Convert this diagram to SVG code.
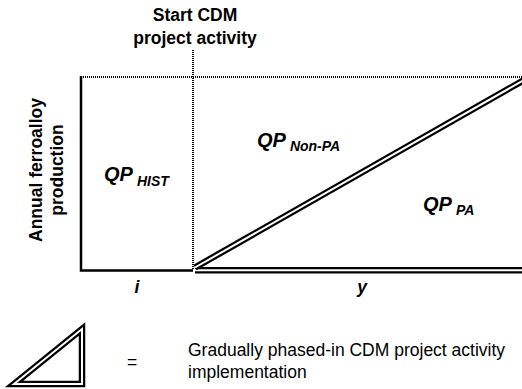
<svg xmlns="http://www.w3.org/2000/svg" width="522" height="389" viewBox="0 0 522 389">
<style>
.lbl{font-family:"Liberation Sans",Arial,sans-serif;font-weight:bold;font-size:17.5px;fill:#000}
.qp{font-family:"Liberation Sans",Arial,sans-serif;font-weight:bold;font-style:italic;font-size:20px;fill:#000}
.sub{font-size:14px}
.txt{font-family:"Liberation Sans",Arial,sans-serif;font-size:17.5px;fill:#000}
.dot{stroke:#000;stroke-width:2;stroke-dasharray:1 1;fill:none}
.axis{stroke:#000;stroke-width:2.5;fill:none}
.dblo{stroke:#000;stroke-width:6.5;fill:none}
.dbli{stroke:#fff;stroke-width:2;fill:none}
</style>
<rect width="522" height="389" fill="#fff"/>
<g id="connectors">
<line class="dot" x1="81" y1="77" x2="522" y2="77"/>
<line class="dot" x1="193" y1="50" x2="193" y2="270"/>
<polyline class="axis" points="81,76 81,270.5 193,270.5"/>
<line class="dblo" x1="195" y1="270.2" x2="522" y2="270.2"/>
<line class="dbli" x1="195" y1="270.2" x2="522" y2="270.2"/>
<line class="dblo" x1="195" y1="267.5" x2="524" y2="80"/>
<line class="dbli" x1="195" y1="267.5" x2="524" y2="80"/>
</g>
<g id="start-label">
<text class="lbl" text-anchor="middle" x="195" y="20.5">Start CDM</text>
<text class="lbl" text-anchor="middle" x="195" y="43.5">project activity</text>
</g>
<g id="y-axis-label">
<text class="lbl" text-anchor="middle" transform="translate(42,170) rotate(-90)">Annual ferroalloy</text>
<text class="lbl" text-anchor="middle" transform="translate(63,170) rotate(-90)">production</text>
</g>
<g id="qp-hist"><text class="qp" x="104" y="181">QP<tspan class="sub" dx="4" dy="5">HIST</tspan></text></g>
<g id="qp-nonpa"><text class="qp" x="257" y="146.5">QP<tspan class="sub" dx="4" dy="4">Non-PA</tspan></text></g>
<g id="qp-pa"><text class="qp" x="423" y="211">QP<tspan class="sub" dx="4" dy="3.5">PA</tspan></text></g>
<g id="x-labels">
<text class="lbl" font-style="italic" text-anchor="middle" x="137" y="293">i</text>
<text class="lbl" font-style="italic" text-anchor="middle" x="362" y="293">y</text>
</g>
<g id="legend">
<polygon class="dblo" points="14,384 82,329 82,384"/>
<polygon class="dbli" points="14,384 82,329 82,384"/>
<text class="txt" text-anchor="middle" x="132" y="368" font-size="13">=</text>
<text class="txt" x="188" y="356">Gradually phased-in CDM project activity</text>
<text class="txt" x="188" y="378">implementation</text>
</g>
</svg>
